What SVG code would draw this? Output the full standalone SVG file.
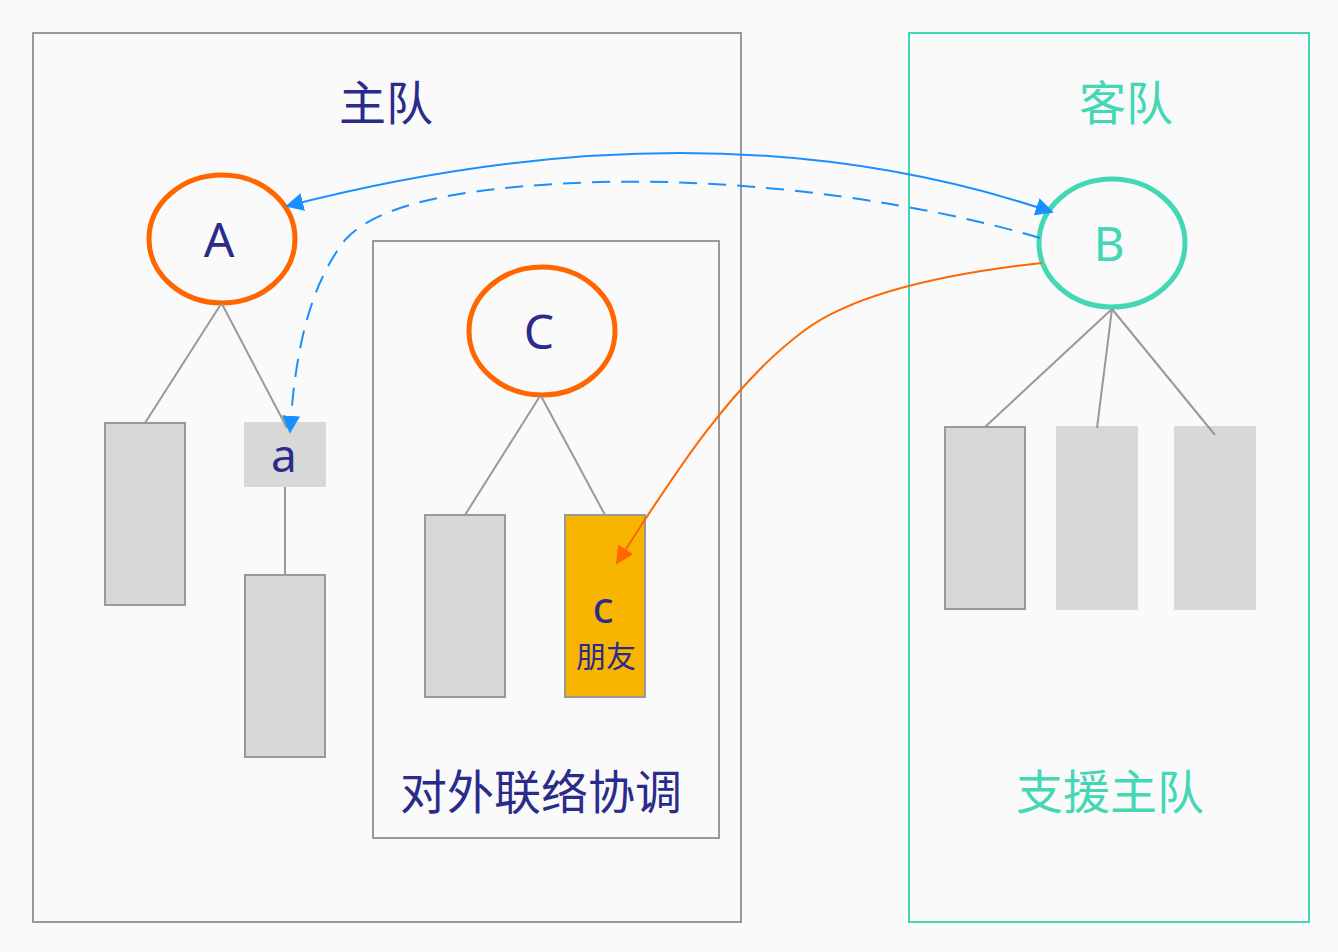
<svg xmlns="http://www.w3.org/2000/svg" width="1338" height="952" viewBox="0 0 1338 952">
<defs>
<style>
.frame{fill:none;stroke:#999;stroke-width:2}
.tframe{fill:none;stroke:#44d7b6;stroke-width:2}
.box{fill:#d8d8d8;stroke:#999;stroke-width:2}
.boxn{fill:#d8d8d8}
.edge{stroke:#999;stroke-width:2;fill:none}
.ell{fill:none;stroke:#ff6600;stroke-width:5}
.ellt{fill:none;stroke:#44d7b6;stroke-width:5}
.t{font-family:"Noto Sans","Noto Sans CJK SC",sans-serif;text-anchor:middle;fill:#2b2b8c}
.tt{font-family:"Noto Sans","Noto Sans CJK SC",sans-serif;text-anchor:middle;fill:#44d7b6}
</style>
<marker id="ab" viewBox="0 0 10 10" refX="9" refY="5" markerWidth="18" markerHeight="18" markerUnits="userSpaceOnUse" orient="auto-start-reverse"><path d="M0,0 L10,5 L0,10 z" fill="#1890ff"/></marker>
<marker id="ao" viewBox="0 0 10 10" refX="9" refY="5" markerWidth="18" markerHeight="18" markerUnits="userSpaceOnUse" orient="auto"><path d="M0,0 L10,5 L0,10 z" fill="#ff6600"/></marker>
</defs>
<rect width="1338" height="952" fill="#fafafa"/>
<g id="home-team">
<rect class="frame" x="33" y="33" width="708" height="889"/>
<text class="t" x="386" y="120" font-size="47">主队</text>
</g>
<g id="away-team">
<rect class="tframe" x="909" y="33" width="400" height="889"/>
<text class="tt" x="1126" y="120" font-size="47">客队</text>
<text class="tt" x="1110" y="809" font-size="47">支援主队</text>
</g>
<g id="liaison">
<rect class="frame" x="373" y="241" width="346" height="597"/>
<text class="t" x="541" y="809" font-size="47">对外联络协调</text>
</g>
<g id="node-A">
<ellipse class="ell" cx="222" cy="239" rx="73" ry="64"/>
<text class="t" x="219" y="257" font-size="48">A</text>
</g>
<g id="node-C">
<ellipse class="ell" cx="542" cy="331" rx="73" ry="64"/>
<text class="t" x="539" y="349" font-size="48">C</text>
</g>
<g id="node-B">
<ellipse class="ellt" cx="1112" cy="243" rx="73" ry="64"/>
<text class="tt" x="1109" y="261" font-size="48">B</text>
</g>
<g id="node-A1"><rect class="box" x="105" y="423" width="80" height="182"/></g>
<g id="node-a">
<rect class="boxn" x="244" y="422" width="82" height="65"/>
<text class="t" x="284" y="472" font-size="46">a</text>
</g>
<g id="node-a1"><rect class="box" x="245" y="575" width="80" height="182"/></g>
<g id="node-C1"><rect class="box" x="425" y="515" width="80" height="182"/></g>
<g id="node-c">
<rect x="565" y="515" width="80" height="182" fill="#f8b500" stroke="#999" stroke-width="2"/>
<text class="t" x="603" y="623" font-size="44">c</text>
<text class="t" x="606" y="667" font-size="30">朋友</text>
</g>
<g id="node-B1"><rect class="box" x="945" y="427" width="80" height="182"/></g>
<g id="node-B2"><rect class="boxn" x="1056" y="426" width="82" height="184"/></g>
<g id="node-B3"><rect class="boxn" x="1174" y="426" width="82" height="184"/></g>
<g id="tree-lines">
<line class="edge" x1="221" y1="304" x2="145" y2="423"/>
<line class="edge" x1="222" y1="304" x2="287" y2="428"/>
<line class="edge" x1="285" y1="487" x2="285" y2="575"/>
<line class="edge" x1="540" y1="396" x2="465" y2="515"/>
<line class="edge" x1="541" y1="396" x2="605" y2="515"/>
<line class="edge" x1="1112" y1="309" x2="985" y2="427"/>
<line class="edge" x1="1112" y1="309" x2="1097" y2="428"/>
<line class="edge" x1="1112" y1="309" x2="1215" y2="435"/>
</g>
<g id="connectors">
<path d="M287,206 Q710,97 1052,212" fill="none" stroke="#1890ff" stroke-width="2" marker-start="url(#ab)" marker-end="url(#ab)"/>
<path d="M1040,238 C930,205 760,178 600,182 C480,186 380,200 345,240 C310,285 295,350 290,432" fill="none" stroke="#1890ff" stroke-width="2" stroke-dasharray="18,11" marker-end="url(#ab)"/>
<path d="M1042,263 C960,272 860,290 805,330 C730,385 670,480 617,563" fill="none" stroke="#ff6600" stroke-width="2" marker-end="url(#ao)"/>
</g>
</svg>
